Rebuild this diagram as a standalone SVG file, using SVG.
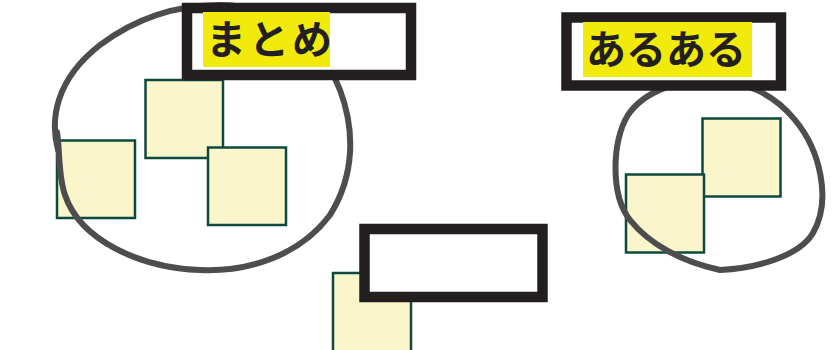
<svg xmlns="http://www.w3.org/2000/svg" width="832" height="350" viewBox="0 0 832 350">
<style>
.note{fill:#faf5cb;stroke:#0d4a3e;stroke-width:2.5}
.blob{fill:none;stroke:#4d4d4f;stroke-width:6;stroke-linecap:round}
.frame{fill:#ffffff;stroke:#231f20;stroke-width:10.5}
.hl{fill:#f2ea0a}
.lbl{font-family:"Noto Sans CJK JP","Noto Sans",sans-serif;font-weight:bold;font-size:40px;fill:#231f20}
</style>
<rect width="832" height="350" fill="#ffffff"/>
<g id="note-m1"><rect class="note" x="145.5" y="80" width="77.5" height="78"/></g>
<g id="note-m2"><rect class="note" x="57" y="140.5" width="78" height="77.5"/></g>
<g id="note-m3"><rect class="note" x="208" y="147.5" width="78" height="77.5"/></g>
<g id="note-a1"><rect class="note" x="702.5" y="118.5" width="78" height="78"/></g>
<g id="note-a2"><rect class="note" x="626" y="174.5" width="78" height="78"/></g>
<g id="note-c1"><rect class="note" x="333" y="273" width="78" height="80"/></g>
<g id="blob-matome"><path class="blob" d="M 58,150 C 50,120 55,80 100,45 C 140,15 180,5 220,5 C 280,5 320,40 340,90 C 355,130 355,175 330,215 C 300,255 250,272 200,270 C 140,268 80,240 65,195 C 58,175 60,150 57,132"/></g>
<g id="blob-aruaru"><path class="blob" d="M 720,270 C 683,262 650,245 630,220 C 610,195 612,140 628,115 C 645,90 680,80 710,80 C 745,80 775,95 795,120 C 820,150 832,200 813,233 C 800,255 760,268 720,270 Z"/></g>
<g id="label-matome">
<rect class="frame" x="187" y="8" width="224" height="67"/>
<rect class="hl" x="203" y="12" width="127" height="55"/>
<text class="lbl" x="206" y="54" letter-spacing="3">まとめ</text>
</g>
<g id="label-aruaru">
<rect class="frame" x="566.5" y="17.5" width="214.5" height="68"/>
<rect class="hl" x="583" y="22" width="169" height="55"/>
<text class="lbl" x="586" y="64">あるある</text>
</g>
<g id="label-empty">
<rect class="frame" x="364.5" y="229" width="178" height="68"/>
</g>
</svg>
